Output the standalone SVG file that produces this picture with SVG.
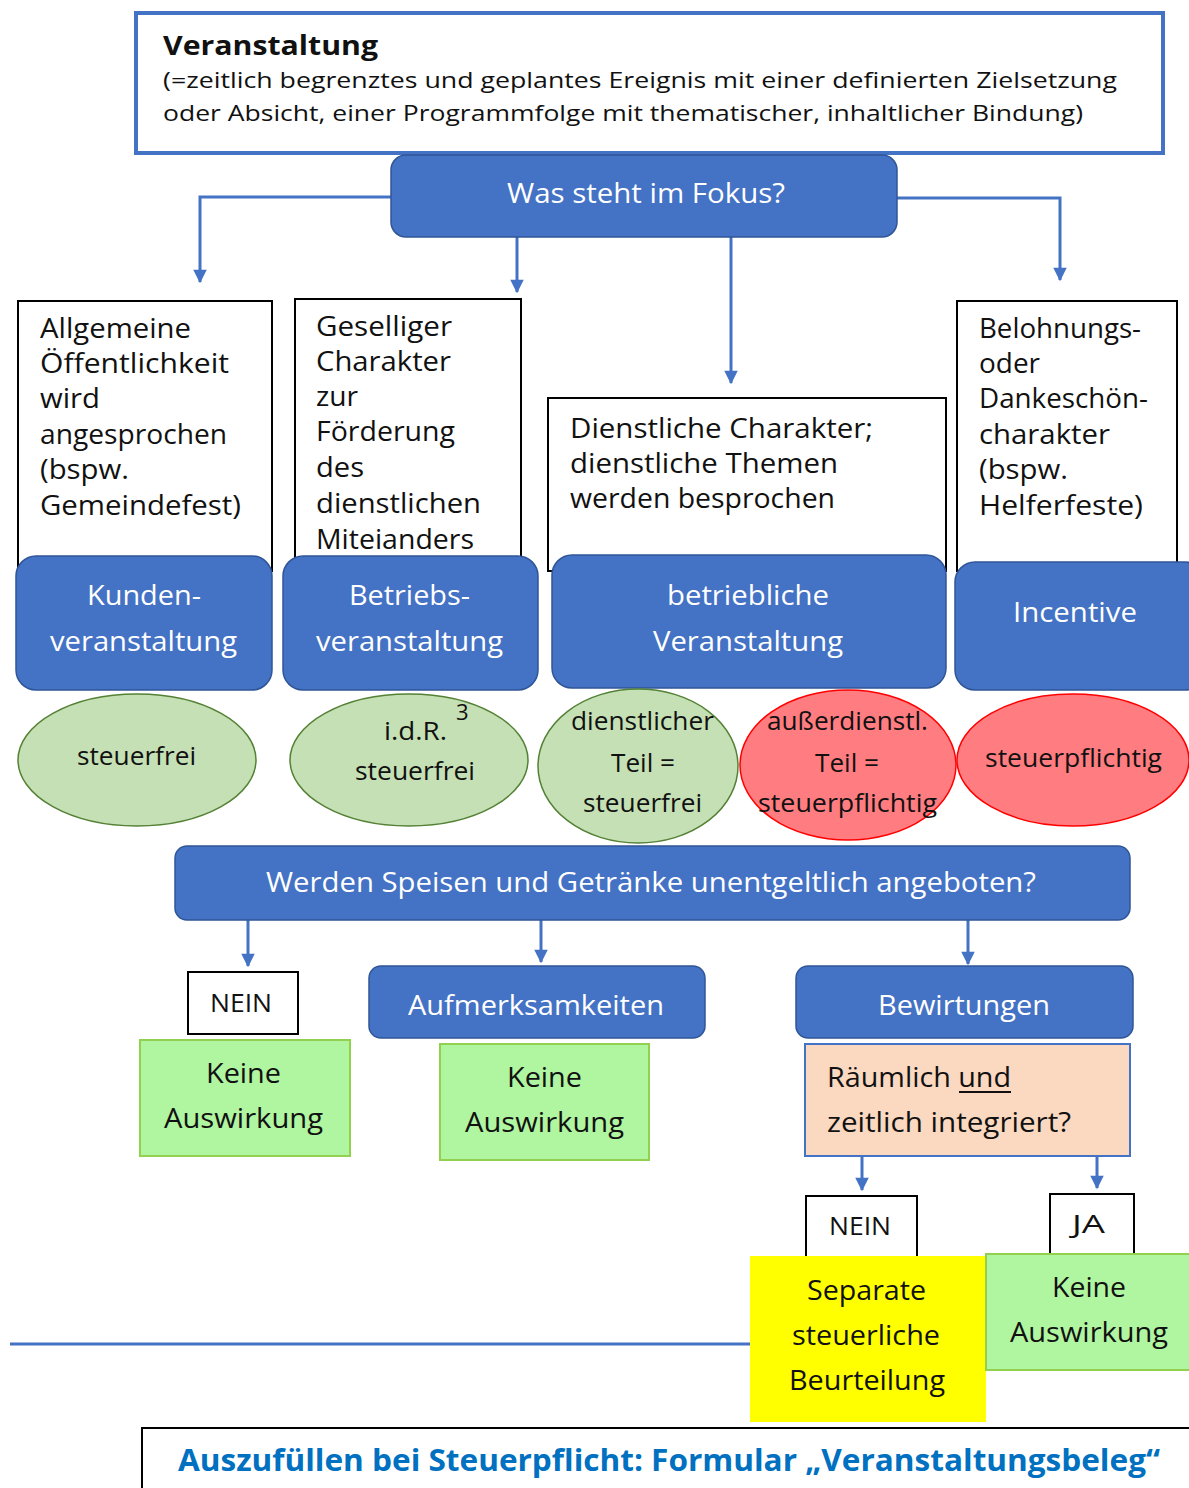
<svg xmlns="http://www.w3.org/2000/svg" width="1189" height="1488" viewBox="0 0 1189 1488">
<style>
text{font-family:"Open Sans","Liberation Sans",sans-serif;font-size:28px;fill:#111}
.w{fill:#fff}
.s26{font-size:26px}
.sub{font-size:22px}
.ttl{font-size:26px;font-weight:bold}
.blue{fill:#4472C4;stroke:#2F5597;stroke-width:1.5}
.wbox{fill:#fff;stroke:#000;stroke-width:2}
.gell{fill:#C5E0B4;stroke:#538135;stroke-width:1.5}
.rell{fill:#FF7C80;stroke:#FF0000;stroke-width:1.5}
.gbox{fill:#B0F5A0;stroke:#92D050;stroke-width:2}
.con{fill:none;stroke:#4472C4;stroke-width:3}
</style>
<defs>
<marker id="ah" viewBox="0 0 10 10" refX="9" refY="5" markerWidth="5" markerHeight="4.5" orient="auto" markerUnits="strokeWidth">
<path d="M0,0 L10,5 L0,10 z" fill="#4472C4"/>
</marker>
</defs>
<rect width="1189" height="1488" fill="#fff"/>

<g id="connectors">
<path class="con" d="M391,197 H200 V282" marker-end="url(#ah)"/>
<path class="con" d="M517,237 V292" marker-end="url(#ah)"/>
<path class="con" d="M731,237 V383" marker-end="url(#ah)"/>
<path class="con" d="M897,198 H1060 V280" marker-end="url(#ah)"/>
<path class="con" d="M248,920 V966" marker-end="url(#ah)"/>
<path class="con" d="M541,920 V962" marker-end="url(#ah)"/>
<path class="con" d="M968,920 V964" marker-end="url(#ah)"/>
<path class="con" d="M862,1156 V1190" marker-end="url(#ah)"/>
<path class="con" d="M1097,1156 V1188" marker-end="url(#ah)"/>
<path class="con" d="M10,1344 H750"/>
</g>

<g id="veranstaltung">
<rect x="136" y="13" width="1027" height="140" fill="#fff" stroke="#4472C4" stroke-width="4"/>
<text class="ttl" x="163" y="55" textLength="215" lengthAdjust="spacingAndGlyphs">Veranstaltung</text>
<text class="sub" x="163" y="88" textLength="954" lengthAdjust="spacingAndGlyphs">(=zeitlich begrenztes und geplantes Ereignis mit einer definierten Zielsetzung</text>
<text class="sub" x="163" y="121" textLength="920" lengthAdjust="spacingAndGlyphs">oder Absicht, einer Programmfolge mit thematischer, inhaltlicher Bindung)</text>
</g>

<g id="fokus">
<rect class="blue" x="391" y="155" width="506" height="82" rx="15"/>
<text class="w" x="507" y="203" textLength="278" lengthAdjust="spacingAndGlyphs">Was steht im Fokus?</text>
</g>

<g id="desc1">
<rect class="wbox" x="18" y="301" width="254" height="270"/>
<text x="40" y="338" textLength="151" lengthAdjust="spacingAndGlyphs">Allgemeine</text>
<text x="40" y="373" textLength="189" lengthAdjust="spacingAndGlyphs">Öffentlichkeit</text>
<text x="40" y="408" textLength="60" lengthAdjust="spacingAndGlyphs">wird</text>
<text x="40" y="444" textLength="187" lengthAdjust="spacingAndGlyphs">angesprochen</text>
<text x="40" y="479" textLength="89" lengthAdjust="spacingAndGlyphs">(bspw.</text>
<text x="40" y="515" textLength="201" lengthAdjust="spacingAndGlyphs">Gemeindefest)</text>
</g>

<g id="desc2">
<rect class="wbox" x="295" y="299" width="226" height="270"/>
<text x="316" y="336" textLength="136" lengthAdjust="spacingAndGlyphs">Geselliger</text>
<text x="316" y="371" textLength="135" lengthAdjust="spacingAndGlyphs">Charakter</text>
<text x="316" y="406" textLength="42" lengthAdjust="spacingAndGlyphs">zur</text>
<text x="316" y="441" textLength="139" lengthAdjust="spacingAndGlyphs">Förderung</text>
<text x="316" y="477" textLength="48" lengthAdjust="spacingAndGlyphs">des</text>
<text x="316" y="513" textLength="165" lengthAdjust="spacingAndGlyphs">dienstlichen</text>
<text x="316" y="549" textLength="158" lengthAdjust="spacingAndGlyphs">Miteianders</text>
</g>

<g id="desc3">
<rect class="wbox" x="548" y="398" width="398" height="173"/>
<text x="570" y="438" textLength="303" lengthAdjust="spacingAndGlyphs">Dienstliche Charakter;</text>
<text x="570" y="473" textLength="268" lengthAdjust="spacingAndGlyphs">dienstliche Themen</text>
<text x="570" y="508" textLength="265" lengthAdjust="spacingAndGlyphs">werden besprochen</text>
</g>

<g id="desc4">
<rect class="wbox" x="957" y="301" width="220" height="270"/>
<text x="979" y="338" textLength="162" lengthAdjust="spacingAndGlyphs">Belohnungs-</text>
<text x="979" y="373" textLength="61" lengthAdjust="spacingAndGlyphs">oder</text>
<text x="979" y="408" textLength="169" lengthAdjust="spacingAndGlyphs">Dankeschön-</text>
<text x="979" y="444" textLength="131" lengthAdjust="spacingAndGlyphs">charakter</text>
<text x="979" y="479" textLength="89" lengthAdjust="spacingAndGlyphs">(bspw.</text>
<text x="979" y="515" textLength="164" lengthAdjust="spacingAndGlyphs">Helferfeste)</text>
</g>

<g id="kunden">
<rect class="blue" x="16" y="556" width="256" height="134" rx="20"/>
<text class="w" x="87" y="605" textLength="114" lengthAdjust="spacingAndGlyphs">Kunden-</text>
<text class="w" x="50" y="651" textLength="187" lengthAdjust="spacingAndGlyphs">veranstaltung</text>
</g>
<g id="betriebs">
<rect class="blue" x="283" y="556" width="255" height="134" rx="20"/>
<text class="w" x="349" y="605" textLength="121" lengthAdjust="spacingAndGlyphs">Betriebs-</text>
<text class="w" x="316" y="651" textLength="187" lengthAdjust="spacingAndGlyphs">veranstaltung</text>
</g>
<g id="betriebliche">
<rect class="blue" x="552" y="555" width="394" height="133" rx="20"/>
<text class="w" x="667" y="605" textLength="162" lengthAdjust="spacingAndGlyphs">betriebliche</text>
<text class="w" x="653" y="651" textLength="190" lengthAdjust="spacingAndGlyphs">Veranstaltung</text>
</g>
<g id="incentive">
<rect class="blue" x="955" y="562" width="250" height="128" rx="20"/>
<text class="w" x="1013" y="622" textLength="124" lengthAdjust="spacingAndGlyphs">Incentive</text>
</g>

<g id="e1">
<ellipse class="gell" cx="137" cy="760" rx="119" ry="66"/>
<text class="s26" x="77" y="765" textLength="119" lengthAdjust="spacingAndGlyphs">steuerfrei</text>
</g>
<g id="e2">
<ellipse class="gell" cx="409" cy="760" rx="119" ry="66"/>
<text class="s26" x="384" y="740" textLength="63" lengthAdjust="spacingAndGlyphs">i.d.R.</text>
<text class="sub" x="456" y="720">3</text>
<text class="s26" x="355" y="780" textLength="120" lengthAdjust="spacingAndGlyphs">steuerfrei</text>
</g>
<g id="e3">
<ellipse class="gell" cx="638" cy="766" rx="100" ry="77"/>
<text class="s26" x="571" y="730" textLength="143" lengthAdjust="spacingAndGlyphs">dienstlicher</text>
<text class="s26" x="611" y="772" textLength="64" lengthAdjust="spacingAndGlyphs">Teil =</text>
<text class="s26" x="583" y="812" textLength="119" lengthAdjust="spacingAndGlyphs">steuerfrei</text>
</g>
<g id="e4">
<ellipse class="rell" cx="848" cy="765" rx="108" ry="75"/>
<text class="s26" x="767" y="730" textLength="161" lengthAdjust="spacingAndGlyphs">außerdienstl.</text>
<text class="s26" x="815" y="772" textLength="64" lengthAdjust="spacingAndGlyphs">Teil =</text>
<text class="s26" x="758" y="812" textLength="179" lengthAdjust="spacingAndGlyphs">steuerpflichtig</text>
</g>
<g id="e5">
<ellipse class="rell" cx="1073" cy="760" rx="116" ry="66"/>
<text class="s26" x="985" y="767" textLength="177" lengthAdjust="spacingAndGlyphs">steuerpflichtig</text>
</g>

<g id="frage">
<rect class="blue" x="175" y="846" width="955" height="74" rx="12"/>
<text class="w" x="266" y="892" textLength="770" lengthAdjust="spacingAndGlyphs">Werden Speisen und Getränke unentgeltlich angeboten?</text>
</g>

<g id="nein1">
<rect class="wbox" x="188" y="972" width="110" height="62"/>
<text class="s26" x="210" y="1012" textLength="62" lengthAdjust="spacingAndGlyphs">NEIN</text>
</g>
<g id="keine1">
<rect class="gbox" x="140" y="1040" width="210" height="116"/>
<text x="206" y="1083" textLength="75" lengthAdjust="spacingAndGlyphs">Keine</text>
<text x="164" y="1128" textLength="159" lengthAdjust="spacingAndGlyphs">Auswirkung</text>
</g>
<g id="aufmerksamkeiten">
<rect class="blue" x="369" y="966" width="336" height="72" rx="12"/>
<text class="w" x="408" y="1015" textLength="256" lengthAdjust="spacingAndGlyphs">Aufmerksamkeiten</text>
</g>
<g id="keine2">
<rect class="gbox" x="440" y="1044" width="209" height="116"/>
<text x="507" y="1087" textLength="75" lengthAdjust="spacingAndGlyphs">Keine</text>
<text x="465" y="1132" textLength="159" lengthAdjust="spacingAndGlyphs">Auswirkung</text>
</g>
<g id="bewirtungen">
<rect class="blue" x="796" y="966" width="337" height="72" rx="12"/>
<text class="w" x="878" y="1015" textLength="172" lengthAdjust="spacingAndGlyphs">Bewirtungen</text>
</g>
<g id="integriert">
<rect x="805" y="1044" width="325" height="112" fill="#FBD8C0" stroke="#4472C4" stroke-width="2"/>
<text x="827" y="1087" textLength="184" lengthAdjust="spacingAndGlyphs">Räumlich und</text>
<line x1="959" y1="1092" x2="1011" y2="1092" stroke="#111" stroke-width="2"/>
<text x="827" y="1132" textLength="244" lengthAdjust="spacingAndGlyphs">zeitlich integriert?</text>
</g>
<g id="nein2">
<rect class="wbox" x="806" y="1196" width="111" height="62"/>
<text class="s26" x="829" y="1235" textLength="62" lengthAdjust="spacingAndGlyphs">NEIN</text>
</g>
<g id="ja">
<rect class="wbox" x="1050" y="1194" width="84" height="62"/>
<text class="s26" x="1072" y="1233" textLength="33" lengthAdjust="spacingAndGlyphs">JA</text>
</g>
<g id="separate">
<rect x="750" y="1256" width="236" height="166" fill="#FFFF00"/>
<text x="807" y="1300" textLength="119" lengthAdjust="spacingAndGlyphs">Separate</text>
<text x="792" y="1345" textLength="148" lengthAdjust="spacingAndGlyphs">steuerliche</text>
<text x="789" y="1390" textLength="156" lengthAdjust="spacingAndGlyphs">Beurteilung</text>
</g>
<g id="keine3">
<rect x="986" y="1254" width="210" height="116" fill="#B0F5A0" stroke="#92D050" stroke-width="2"/>
<text x="1052" y="1297" textLength="74" lengthAdjust="spacingAndGlyphs">Keine</text>
<text x="1010" y="1342" textLength="158" lengthAdjust="spacingAndGlyphs">Auswirkung</text>
</g>
<g id="formular">
<rect x="142" y="1428" width="1060" height="80" fill="#fff" stroke="#000" stroke-width="2"/>
<text x="178" y="1471" style="font-size:30px;font-weight:bold;fill:#0070C0" textLength="982" lengthAdjust="spacingAndGlyphs">Auszufüllen bei Steuerpflicht: Formular „Veranstaltungsbeleg“</text>
</g>
</svg>
